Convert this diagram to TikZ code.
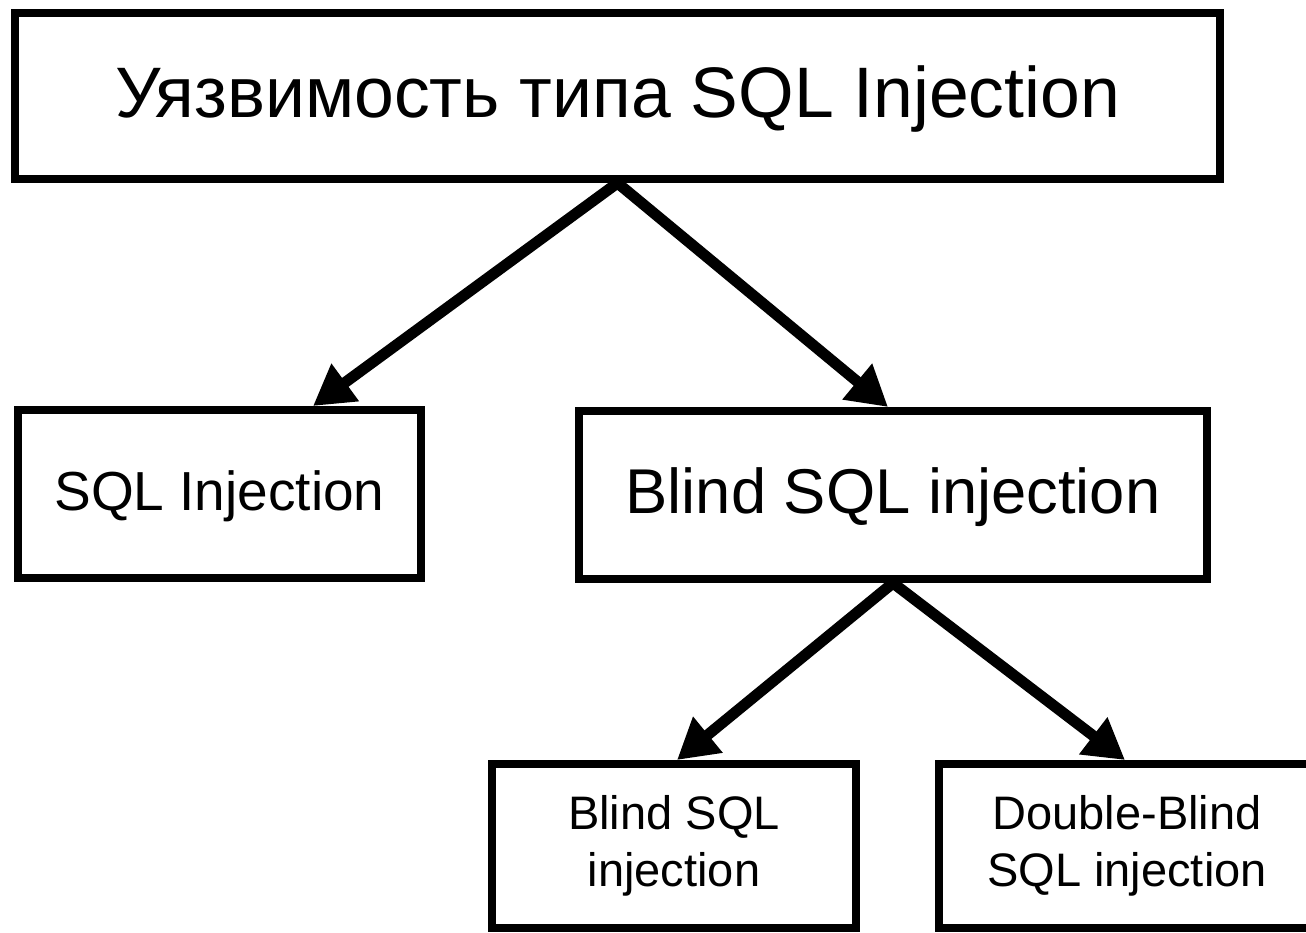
\documentclass[tikz,border=0pt]{standalone}
\usepackage{fontspec}
\setmainfont{Liberation Sans}
\usetikzlibrary{arrows.meta}
\tikzset{
  box/.style={draw=black, line width=8pt, rectangle, inner sep=0pt, align=center, text=black},
  conn/.style={line width=11pt, line join=miter, draw=black,
    {Triangle[length=40pt,width=44pt]}-{Triangle[length=40pt,width=44pt]}}
}
\begin{document}
\begin{tikzpicture}[x=1pt,y=-1pt]
\useasboundingbox[fill=white] (0,0) rectangle (1306,933);
\clip (0,0) rectangle (1306,933);
\node[box, minimum width=1205pt, minimum height=166pt, text height=51pt, text depth=8pt,
  font=\fontsize{71.5}{86}\selectfont] (top) at (617.5,96) {Уязвимость типа SQL Injection};
\node[box, minimum width=403pt, minimum height=168pt, text height=39pt, text depth=7pt,
  font=\fontsize{55}{66}\selectfont] (sqli) at (219.5,494) {SQL Injection};
\node[box, minimum width=628pt, minimum height=168pt, text height=45pt, text depth=9pt,
  font=\fontsize{63.3}{76}\selectfont] (blind) at (893,495) {Blind SQL injection};
\node[box, minimum width=364pt, minimum height=164pt,
  font=\fontsize{47}{57}\selectfont] (bsql) at (674,846) {Blind SQL\\injection};
\node[box, minimum width=376pt, minimum height=164pt,
  font=\fontsize{47}{57}\selectfont] (dbsql) at (1127,846) {Double-Blind\\SQL injection};
\draw[conn] ([xshift=93.5pt]sqli.north) -- (top.south) -- ([xshift=-5pt]blind.north);
\draw[conn] ([xshift=3pt]bsql.north) -- (blind.south) -- ([xshift=-2pt]dbsql.north);
\end{tikzpicture}
\end{document}
